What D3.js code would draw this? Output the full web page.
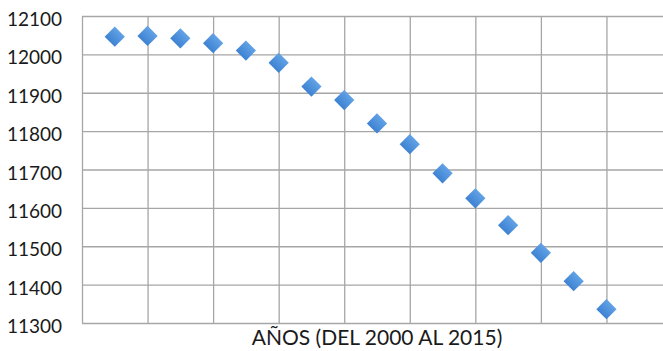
<!DOCTYPE html>
<html><head><meta charset="utf-8">
<script src="https://cdn.jsdelivr.net/npm/d3@7"></script>
<style>body{margin:0;background:#fff}svg{display:block}</style>
</head><body>
<script>
const years = [2000,2001,2002,2003,2004,2005,2006,2007,2008,2009,2010,2011,2012,2013,2014,2015];
const values = [12046,12048,12042,12029,12010,11978,11916,11881,11820,11766,11690,11625,11555,11483,11409,11336];
const yTicks = [11300,11400,11500,11600,11700,11800,11900,12000,12100];
const xTicks = [0,2,4,6,8,10,12,14,16,18];
const xTitle = "AÑOS (DEL 2000 AL 2015)";

const W = 663, H = 351;
const svg = d3.select("body").append("svg").attr("width", W).attr("height", H);
const defs = svg.append("defs");
const g = defs.append("linearGradient").attr("id","mk").attr("x1",0).attr("y1",0).attr("x2",0).attr("y2",1);
g.append("stop").attr("offset","0%").attr("stop-color","#62a2e6");
g.append("stop").attr("offset","100%").attr("stop-color","#3d82d2");

const x = d3.scaleLinear().domain([0,18]).range([82,672]);
const y = d3.scaleLinear().domain([11300,12100]).range([323,16]);

svg.append("g").attr("transform","translate(82,0)")
  .call(d3.axisLeft(y).tickValues(yTicks).tickSize(-(672-82)).tickFormat(""))
  .call(s=>s.select(".domain").remove())
  .call(s=>s.selectAll("line").attr("stroke","#a6a6a6").attr("stroke-width",1.3));
svg.append("g").attr("transform","translate(0,323)")
  .call(d3.axisBottom(x).tickValues(xTicks).tickSize(-(323-16)).tickFormat(""))
  .call(s=>s.select(".domain").remove())
  .call(s=>s.selectAll("line").attr("stroke","#a6a6a6").attr("stroke-width",1.3));

svg.append("g").attr("transform","translate(62,0)")
  .call(d3.axisLeft(y).tickValues(yTicks).tickSize(0).tickPadding(0).tickFormat(d3.format("d")))
  .call(s=>s.select(".domain").remove())
  .call(s=>s.selectAll("text").attr("font-family","Lato, 'Open Sans', sans-serif")
     .attr("font-size","19px").attr("fill","#1a1a1a").attr("dy","0.5em"));

const sym = d3.symbol().type(d3.symbolSquare).size(205);
svg.append("g").selectAll("path").data(values).join("path")
  .attr("d", sym)
  .attr("transform",(d,i)=>`translate(${x(i+1)},${y(d)}) rotate(45)`)
  .attr("fill","url(#mk)");

svg.append("text").attr("x", 377).attr("y", 345).attr("text-anchor","middle")
  .attr("font-family","Lato, 'Open Sans', sans-serif").attr("font-size","21px").attr("fill","#1a1a1a")
  .text(xTitle);
</script>
</body></html>
